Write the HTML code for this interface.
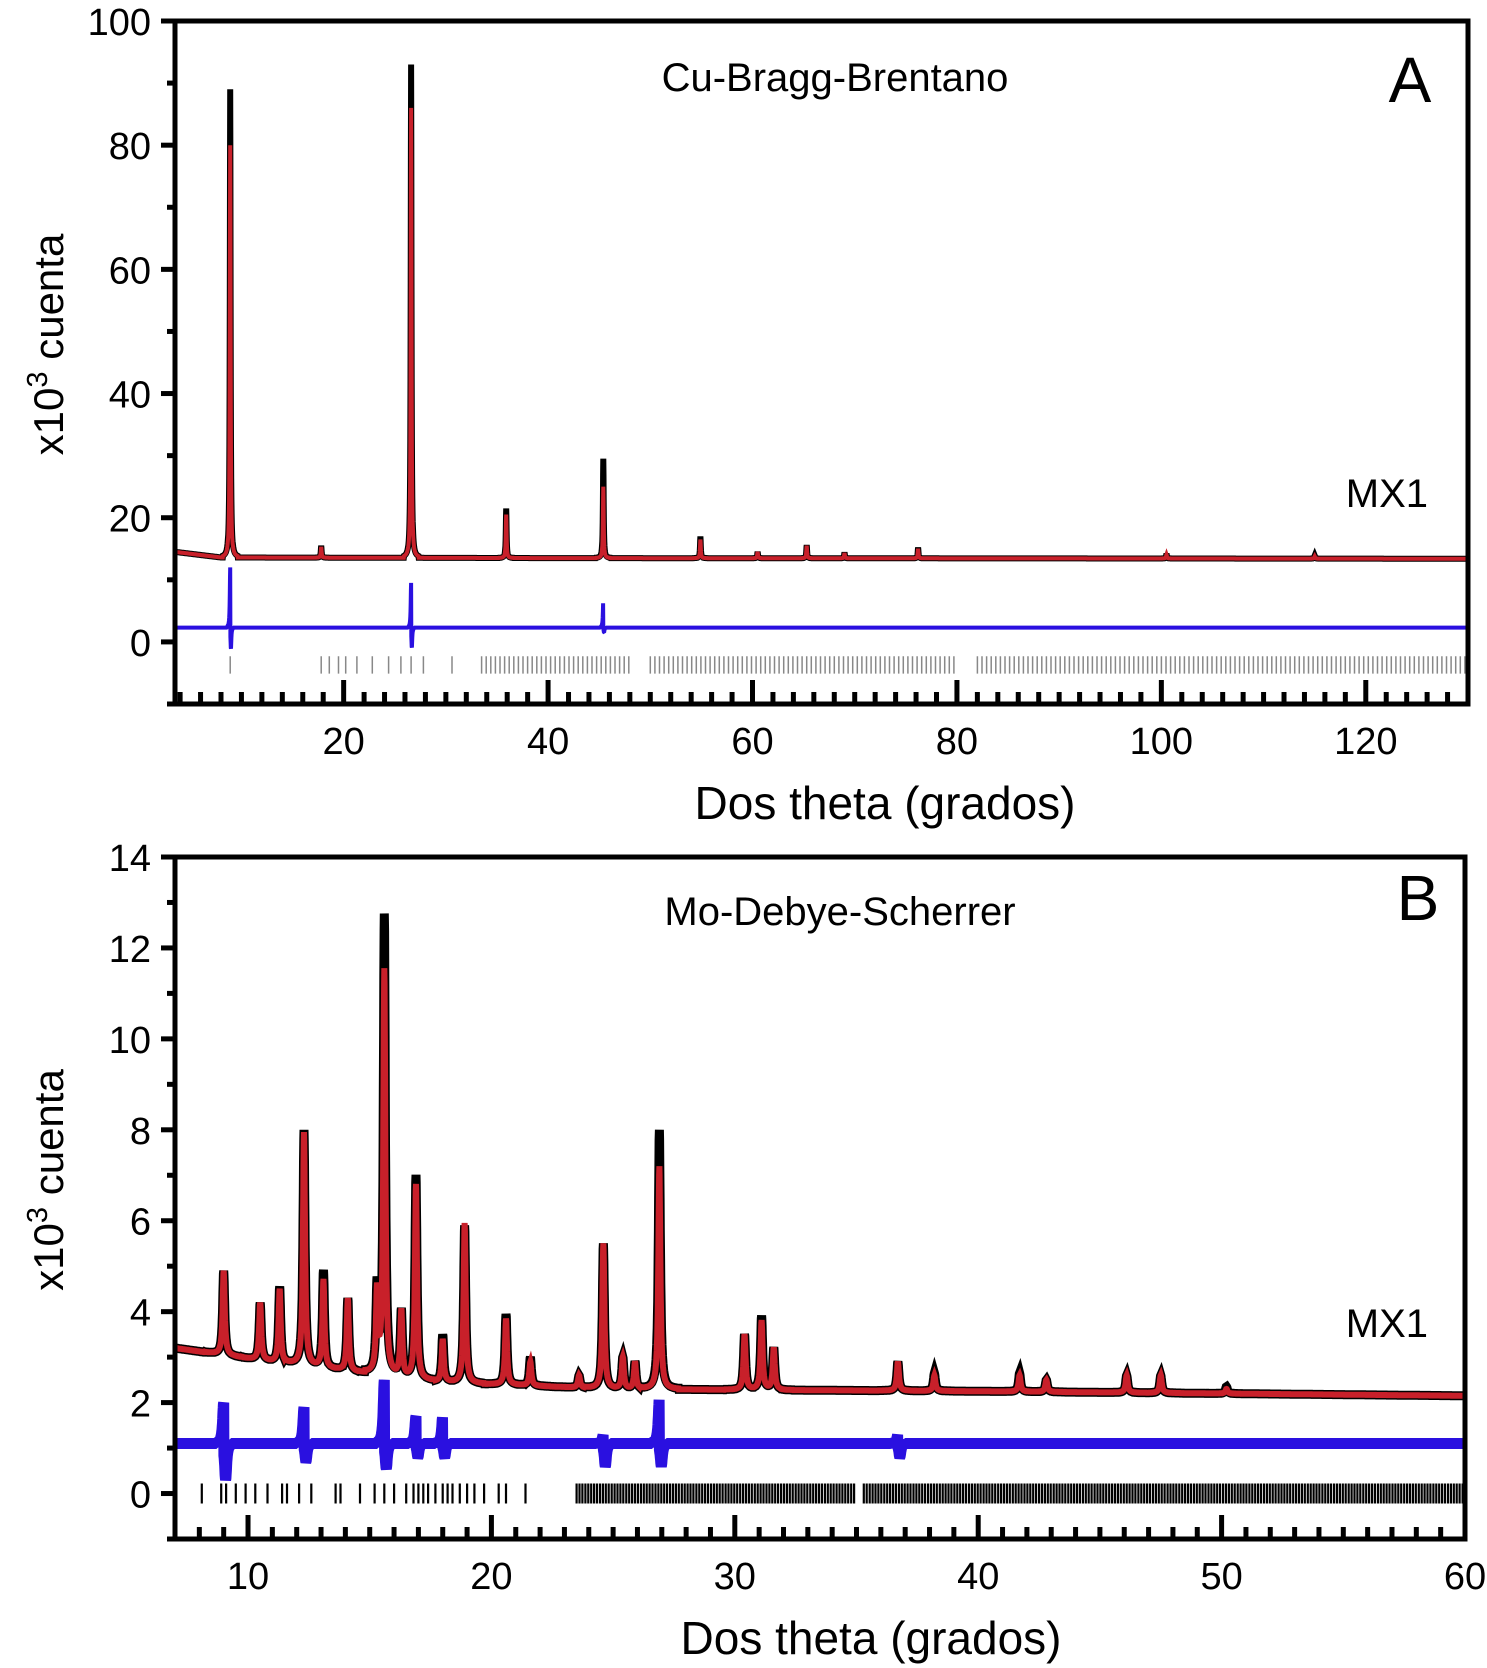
<!DOCTYPE html>
<html><head><meta charset="utf-8"><style>
html,body{margin:0;padding:0;background:#fff}
svg{display:block}
text{font-family:"Liberation Sans",sans-serif;fill:#000}
</style></head><body>
<svg id="fig" width="1487" height="1668" viewBox="0 0 1487 1668" xmlns="http://www.w3.org/2000/svg">
</svg>
<script>
// ---------- Panel A data (Cu Bragg-Brentano) ----------
const aPeakPos   = [8.9, 17.8, 26.6, 35.9, 45.4, 54.9, 60.5, 65.3, 69.0, 76.2, 100.5, 115.0];
const aObsHeight = [89, 15.5, 93, 21.5, 29.5, 17, 14.5, 15.6, 14.4, 15.2, 14.2, 13.9];
const aCalHeight = [80, 15.3, 86, 20.5, 25, 16.5, 14.5, 15.5, 14.3, 15.0, 14.1, 13.8];
const aBackground = [14.5, 13.6, 13.5, 13.4];
const aBgX = [3.5, 8, 40, 130];
const aDiffBase = 2.3;
const aDiffPos = [8.9, 26.6, 45.4];
const aDiffUp = [12, 9.5, 7];
const aDiffDown = [-1.2, -1.0, 1.5];
const aReflSparse = [8.9, 17.8, 18.6, 19.5, 20.2, 21.3, 22.8, 24.4, 25.6, 26.6, 27.8, 30.6];
const aReflDenseRanges = [[33.5, 48], [50, 80], [82, 131]];
const aYTicks = [0, 20, 40, 60, 80, 100];
const aXTicks = [20, 40, 60, 80, 100, 120];

// ---------- Panel B data (Mo Debye-Scherrer) ----------
const bPeakPos   = [9.0, 10.5, 11.3, 12.3, 13.1, 14.1, 15.3, 15.6, 16.3, 16.9, 18.0, 18.9, 20.6, 21.6, 23.6, 24.6, 25.4, 25.9, 26.9, 30.4, 31.1, 31.6, 36.7, 38.2, 41.7, 42.8, 46.1, 47.5, 50.2];
const bObsHeight = [4.9, 4.2, 4.55, 8.0, 4.9, 4.3, 4.5, 12.7, 4.0, 7.0, 3.5, 5.9, 3.95, 3.0, 2.6, 5.5, 3.0, 2.9, 8.0, 3.5, 3.9, 3.2, 2.9, 2.65, 2.65, 2.5, 2.6, 2.6, 2.35];
const bCalHeight = [4.9, 4.2, 4.5, 7.95, 4.7, 4.3, 4.4, 11.5, 4.0, 6.8, 3.4, 5.95, 3.85, 2.9, 2.6, 5.5, 3.0, 2.9, 7.2, 3.5, 3.8, 3.2, 2.9, 2.6, 2.6, 2.5, 2.6, 2.6, 2.3];
const bBackground = [3.2, 2.9, 2.45, 2.3, 2.25, 2.15];
const bBgX = [7, 11, 18, 25, 40, 60];
const bDiffBase = 1.1;
const bDiffPos = [9.0, 12.3, 15.6, 16.9, 18.0, 24.6, 26.9, 36.7];
const bDiffUp = [2.0, 1.9, 2.5, 1.7, 1.7, 1.3, 2.1, 1.3];
const bDiffDown = [0.3, 0.7, 0.55, 0.8, 0.8, 0.6, 0.6, 0.8];
const bReflSparse = [8.1, 8.9, 9.1, 9.5, 9.9, 10.3, 10.8, 11.4, 11.6, 12.1, 12.6, 13.6, 13.8, 14.6, 15.2, 15.6, 16.0, 16.5, 16.8, 17.0, 17.2, 17.4, 17.7, 18.0, 18.2, 18.4, 18.7, 19.0, 19.3, 19.7, 20.3, 20.6, 21.4];
const bReflDenseRanges = [[23.5, 35], [35.3, 60]];
const bYTicks = [0, 2, 4, 6, 8, 10, 12, 14];
const bXTicks = [10, 20, 30, 40, 50, 60];

const NS = "http://www.w3.org/2000/svg";
const svg = document.getElementById('fig');
function mk(tag, attrs, parent) {
  const e = document.createElementNS(NS, tag);
  for (const k in attrs) e.setAttribute(k, attrs[k]);
  (parent || svg).appendChild(e);
  return e;
}
function interp(xs, ys, x) {
  if (x <= xs[0]) return ys[0];
  for (let i = 1; i < xs.length; i++) if (x <= xs[i]) { const t = (x - xs[i-1]) / (xs[i] - xs[i-1]); return ys[i-1] + t * (ys[i] - ys[i-1]); }
  return ys[ys.length - 1];
}

function panel(cfg) {
  const g = mk('g', {});
  
  
  const X = v => cfg.L + (v - cfg.x0) / (cfg.x1 - cfg.x0) * (cfg.R - cfg.L);
  const Y = v => cfg.B - (v - cfg.y0) / (cfg.y1 - cfg.y0) * (cfg.B - cfg.T);
  const clip = mk('clipPath', { id: cfg.name + '-clip' }, g);
  mk('rect', { x: cfg.L, y: cfg.T, width: cfg.R - cfg.L, height: cfg.B - cfg.T }, clip);
  const plot = mk('g', { 'clip-path': 'url(#' + cfg.name + '-clip)' }, g);
  
  

  function profile(heights) {
    let d = '';
    for (let x = cfg.x0; x <= cfg.x1 + 1e-9; x += cfg.step) {
      const bg = interp(cfg.bgX, cfg.bg, x);
      let y = bg;
      for (let i = 0; i < cfg.pos.length; i++) {
        const dx = (x - cfg.pos[i]) / cfg.w;
        if (Math.abs(dx) < 8) y += (heights[i] - interp(cfg.bgX, cfg.bg, cfg.pos[i])) / (1 + dx * dx * 4);
      }
      d += (d ? 'L' : 'M') + X(x).toFixed(1) + ',' + Y(y).toFixed(1);
    }
    return d;
  }
  const obs = mk('path', { d: profile(cfg.obs), fill: 'none', stroke: '#000', 'stroke-width': cfg.obsW, 'stroke-linejoin': 'miter' }, plot);
  
  
  const cal = mk('path', { d: profile(cfg.cal), fill: 'none', stroke: '#c8202a', 'stroke-width': cfg.calW, 'stroke-linejoin': 'miter' }, plot);
  
  
  let dd = '';
  for (let x = cfg.x0; x <= cfg.x1 + 1e-9; x += cfg.step) {
    let y = cfg.dBase;
    for (let i = 0; i < cfg.dPos.length; i++) {
      const dx = (x - cfg.dPos[i]) / cfg.w;
      if (dx > -3 && dx <= 0) y += (cfg.dUp[i] - cfg.dBase) / (1 + dx * dx * 4);
      else if (dx > 0 && dx < 3) y += (cfg.dDown[i] - cfg.dBase) / (1 + (dx - 0.8) * (dx - 0.8) * 4);
    }
    dd += (dd ? 'L' : 'M') + X(x).toFixed(1) + ',' + Y(y).toFixed(1);
  }
  const diff = mk('path', { d: dd, fill: 'none', stroke: '#2a10e0', 'stroke-width': cfg.diffW, 'stroke-linejoin': 'bevel' }, plot);
  
  
  const refl = [...cfg.reflSparse];
  cfg.reflRanges.forEach(r => { for (let x = r[0]; x <= r[1]; x += cfg.reflStep) refl.push(x); });
  let rd = '';
  refl.forEach(v => { rd += 'M' + X(v).toFixed(1) + ',' + Y(cfg.reflY + cfg.reflH) + 'V' + Y(cfg.reflY - cfg.reflH); });
  const rp = mk('path', { d: rd, stroke: cfg.reflColor, 'stroke-width': cfg.reflW, fill: 'none' }, plot);
  
  

  const fr = mk('rect', { x: cfg.L, y: cfg.T, width: cfg.R - cfg.L, height: cfg.B - cfg.T, fill: 'none', stroke: '#000', 'stroke-width': 5 }, g);
  
  
  for (let v = cfg.y0; v <= cfg.y1 + 1e-9; v += cfg.yMinor) {
    const major = cfg.yTicks.some(t => Math.abs(t - v) < 1e-6);
    mk('line', { x1: cfg.L - (major ? 14 : 8), x2: cfg.L, y1: Y(v), y2: Y(v), stroke: '#000', 'stroke-width': 5 }, g);
  }
  cfg.yTicks.forEach(v => {
    const t = mk('text', { x: cfg.L - 24, y: Y(v) + 14, 'text-anchor': 'end', 'font-size': 38 }, g);
    t.textContent = v;
    
    
  });
  const startMinor = Math.ceil(cfg.x0 / cfg.xMinor) * cfg.xMinor;
  for (let v = startMinor; v < cfg.x1 - 1e-6; v += cfg.xMinor) {
    const major = cfg.xTicks.some(t => Math.abs(t - v) < 1e-6);
    mk('line', { x1: X(v), x2: X(v), y1: cfg.B, y2: cfg.B - (major ? 24 : 12), stroke: '#000', 'stroke-width': 5 }, g);
  }
  cfg.xTicks.forEach(v => {
    const t = mk('text', { x: X(v), y: cfg.B + 50, 'text-anchor': 'middle', 'font-size': 38 }, g);
    t.textContent = v;
    
    
  });
  const xt = mk('text', { x: cfg.xTitleX, y: cfg.B + 115, 'text-anchor': 'middle', 'font-size': 46 }, g);
  xt.textContent = 'Dos theta (grados)';
  
  
  const cy = (cfg.T + cfg.B) / 2 - 18;
  const yt = mk('text', { x: 0, y: 0, 'text-anchor': 'middle', 'font-size': 42, transform: 'translate(63,' + cy + ') rotate(-90)' }, g);
  yt.innerHTML = 'x10<tspan dy="-16" font-size="29">3</tspan><tspan dy="16"> cuenta</tspan>';
  
  
  const tt = mk('text', { x: cfg.titleX, y: cfg.titleY, 'text-anchor': 'middle', 'font-size': 40 }, g);
  tt.textContent = cfg.title;
  
  
  const lt = mk('text', { x: cfg.letterX, y: cfg.letterY, 'text-anchor': 'middle', 'font-size': 64 }, g);
  lt.textContent = cfg.letter;
  
  
  const sl = mk('text', { x: cfg.sampleX, y: cfg.sampleY, 'text-anchor': 'end', 'font-size': 40 }, g);
  sl.textContent = 'MX1';
  
  
}

panel({ name: 'panel-a', L: 175, R: 1468, T: 21, B: 704, x0: 3.5, x1: 130, y0: -10, y1: 100,
  step: 0.02, w: 0.09, pos: aPeakPos, obs: aObsHeight, cal: aCalHeight, bg: aBackground, bgX: aBgX,
  obsW: 6, calW: 4, diffW: 4, dBase: aDiffBase, dPos: aDiffPos, dUp: aDiffUp, dDown: aDiffDown,
  reflSparse: aReflSparse, reflRanges: aReflDenseRanges, reflStep: 0.45, reflY: -3.7, reflH: 1.4, reflColor: '#888', reflW: 1.5,
  yTicks: aYTicks, yMinor: 10, xTicks: aXTicks, xMinor: 2,
  xTitleX: 885, title: 'Cu-Bragg-Brentano', titleX: 835, titleY: 91, letter: 'A', letterX: 1410, letterY: 102,
  sampleX: 1428, sampleY: 507 });

panel({ name: 'panel-b', L: 175, R: 1465, T: 857, B: 1539, x0: 7, x1: 60, y0: -1, y1: 14,
  step: 0.01, w: 0.1, pos: bPeakPos, obs: bObsHeight, cal: bCalHeight, bg: bBackground, bgX: bBgX,
  obsW: 9, calW: 6, diffW: 11, dBase: bDiffBase, dPos: bDiffPos, dUp: bDiffUp, dDown: bDiffDown,
  reflSparse: bReflSparse, reflRanges: bReflDenseRanges, reflStep: 0.12, reflY: 0, reflH: 0.22, reflColor: '#000', reflW: 2.2,
  yTicks: bYTicks, yMinor: 1, xTicks: bXTicks, xMinor: 1,
  xTitleX: 871, title: 'Mo-Debye-Scherrer', titleX: 840, titleY: 925, letter: 'B', letterX: 1418, letterY: 920,
  sampleX: 1428, sampleY: 1337 });
</script>
</body></html>
